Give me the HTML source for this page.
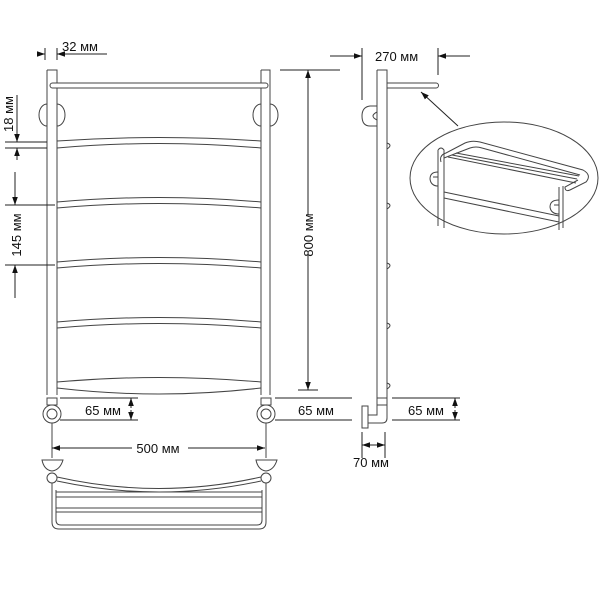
<!DOCTYPE html>
<html><head><meta charset="utf-8"><style>
html,body{margin:0;padding:0;background:#fff}
svg{display:block}
text{font-family:"Liberation Sans",sans-serif;font-size:13px;fill:#111}
</style></head><body>
<svg width="600" height="600" viewBox="0 0 600 600" xmlns="http://www.w3.org/2000/svg">
<defs>
<marker id="a" viewBox="0 0 10 10" refX="10" refY="5" markerWidth="8" markerHeight="8" orient="auto-start-reverse"><path d="M0,1.5 L10,5 L0,8.5 Z" fill="#111"/></marker>
</defs>
<g fill="none" stroke="#444" stroke-width="1">
<path d="M47,70 H57 V395 M47,70 V395"/>
<path d="M261,70 H270 V395 M261,70 V395"/>
<rect x="50" y="83" width="218" height="5" rx="2.5" fill="#fff"/>
<path d="M47,104 A8,11 0 0 0 47,126 M57,104 A8,11 0 0 1 57,126"/>
<path d="M261,104 A8,11 0 0 0 261,126 M270,104 A8,11 0 0 1 270,126"/>
<path d="M57,141 Q159,134 261,141"/>
<path d="M57,148 Q159,139 261,148 V202 Q159,193 57,202 Z"/>
<path d="M57,208 Q159,199 261,208 V262 Q159,253 57,262 Z"/>
<path d="M57,268 Q159,259 261,268 V322 Q159,313 57,322 Z"/>
<path d="M57,328 Q159,319 261,328 V382 Q159,373 57,382 Z"/>
<path d="M57,388 Q159,400 261,388"/>
<rect x="47" y="398" width="10" height="7"/><rect x="261" y="398" width="10" height="7"/>
<circle cx="52" cy="414" r="9"/><circle cx="52" cy="414" r="5"/>
<circle cx="266" cy="414" r="9"/><circle cx="266" cy="414" r="5"/>
<path d="M52,423 V458 M266,423 V458"/>
<path d="M42,460 H63 Q60,470 52,471 Q44,470 42,460 Z"/>
<path d="M256,460 H277 Q274,470 266,471 Q258,470 256,460 Z"/>
<circle cx="52" cy="478" r="5"/><circle cx="266" cy="478" r="5"/>
<path d="M57,477 Q159,500 261,477 M57,481 Q159,503 261,481"/>
<path d="M52,483 V522 Q52,529 59,529 H259 Q266,529 266,522 V483"/>
<path d="M56,490 V520 Q56,525 61,525 H257 Q262,525 262,520 V490"/>
<path d="M56,492 H262 M56,497 H262 M56,508 H262 M56,512 H262"/>
<path d="M377,70 H387 V398 M377,70 V398"/>
<path d="M387,83 H436 A2.5,2.5 0 0 1 436,88 H387"/>
<path d="M377,106 H370 Q362,107 362,116 Q362,126 370,126 H377"/>
<path d="M377,112 Q369,116 377,120"/>
<path d="M387,143 Q393,145 387,149 M387,203 Q393,205 387,209 M387,263 Q393,265 387,269 M387,323 Q393,325 387,329 M387,383 Q393,385 387,389"/>
<rect x="377" y="398" width="10" height="7"/>
<path d="M377,405 V415 H368 M387,405 V418 Q387,423 382,423 H368"/>
<rect x="362" y="406" width="6" height="22"/>
<ellipse cx="504" cy="178" rx="94" ry="56"/>
<path d="M458,126 L421,92" marker-end="url(#a)" stroke="#222"/>
<path d="M438,150 Q441,146 444,150 V228 M438,150 V226"/>
<path d="M441,162 Q439,155 446,153 L465,143 Q472,140 480,142 L583,170 Q592,175 586,182 L570,190 Q565,192 565,187 L578,180"/>
<path d="M444,158 L470,148 Q476,146 482,148 L580,175"/>
<path d="M448,157 L576,183 M452,155 L577,179 M456,153 L579,176"/>
<path d="M559,187 V230 M563,186 V228"/>
<path d="M444,192 L559,216 M444,198 L559,222"/>
<path d="M438,172 Q430,172 430,179 Q431,186 438,186 M438,177 H433"/>
<path d="M559,200 Q550,200 550,207 Q551,214 559,214 M559,205 H554"/>
</g>
<g stroke="#222" stroke-width="1" fill="none">
<path d="M45,48 V60 M57,48 V60 M57,54 H107"/>
<path d="M38,54 H45" marker-end="url(#a)"/><path d="M64,54 H57" marker-end="url(#a)"/>
<path d="M5,142 H47 M5,148 H47"/>
<path d="M17,95 V142" marker-end="url(#a)"/><path d="M17,160 V148" marker-end="url(#a)"/>
<path d="M5,205 H55 M5,265 H55"/>
<path d="M15,172 V205" marker-end="url(#a)"/><path d="M15,298 V265" marker-end="url(#a)"/>
<path d="M60,398 H138 M60,420 H138"/>
<path d="M131,408 V398" marker-end="url(#a)"/><path d="M131,410 V420" marker-end="url(#a)"/>
<path d="M275,398 H352 M275,420 H352"/>
<path d="M132,448 H52" marker-end="url(#a)"/><path d="M188,448 H265" marker-end="url(#a)"/>
<path d="M280,70 H340 M298,390 H318"/>
<path d="M308,225 V70" marker-end="url(#a)"/><path d="M308,245 V390" marker-end="url(#a)"/>
<path d="M362,48 V100 M438,48 V75"/>
<path d="M330,56 H362" marker-end="url(#a)"/><path d="M470,56 H438" marker-end="url(#a)"/>
<path d="M392,398 H460 M392,420 H460"/>
<path d="M455,408 V398" marker-end="url(#a)"/><path d="M455,410 V420" marker-end="url(#a)"/>
<path d="M362,432 V458 M385,432 V458"/>
<path d="M373,445 H362" marker-end="url(#a)"/><path d="M373,445 H385" marker-end="url(#a)"/>
</g>
<text x="62" y="51">32 мм</text>
<text transform="translate(13,132) rotate(-90)" text-anchor="start">18 мм</text>
<text transform="translate(21,235) rotate(-90)" text-anchor="middle">145 мм</text>
<text x="85" y="415">65 мм</text>
<text x="298" y="415">65 мм</text>
<text x="408" y="415">65 мм</text>
<text x="158" y="453" text-anchor="middle">500 мм</text>
<rect x="300" y="215" width="16" height="40" fill="#fff"/>
<text transform="translate(313,235) rotate(-90)" text-anchor="middle">800 мм</text>
<text x="375" y="61">270 мм</text>
<text x="353" y="467">70 мм</text>
</svg>
</body></html>
